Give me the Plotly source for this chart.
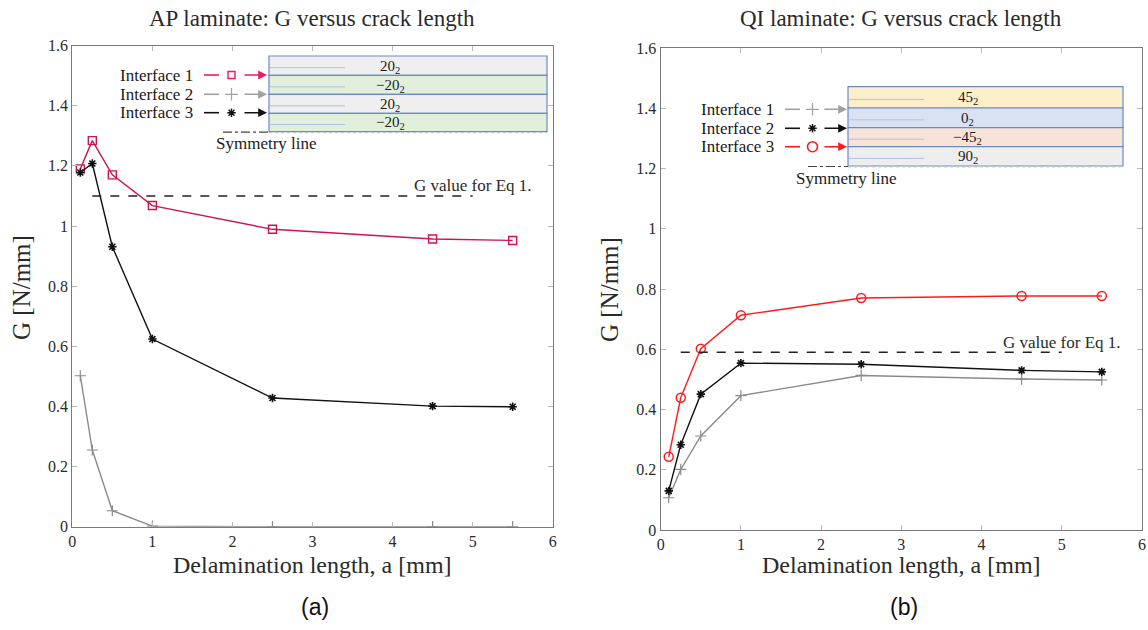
import plotly.graph_objects as go

# ---------------- data ----------------
a_mm = [0.1, 0.25, 0.5, 1.0, 2.5, 4.5, 5.5]

ap_interface1 = [1.190, 1.284, 1.170, 1.068, 0.989, 0.957, 0.952]
ap_interface2 = [0.502, 0.255, 0.053, 0.002, 0.0, 0.0, 0.0]
ap_interface3 = [1.178, 1.208, 0.931, 0.624, 0.428, 0.401, 0.399]

qi_interface1 = [0.107, 0.201, 0.312, 0.446, 0.513, 0.501, 0.498]
qi_interface2 = [0.130, 0.283, 0.451, 0.554, 0.550, 0.530, 0.525]
qi_interface3 = [0.243, 0.439, 0.602, 0.713, 0.770, 0.777, 0.777]

eq1_x = [0.25, 5.0]
ap_eq1 = 1.1
qi_eq1 = 0.59

x_ticks = [0, 1, 2, 3, 4, 5, 6]
x_ticktext = ["0", "1", "2", "3", "4", "5", "6"]
y_ticks = [0, 0.2, 0.4, 0.6, 0.8, 1.0, 1.2, 1.4, 1.6]
y_ticktext = ["0", "0.2", "0.4", "0.6", "0.8", "1", "1.2", "1.4", "1.6"]

ap_layers = ["20<sub>2</sub>", "\u221220<sub>2</sub>", "20<sub>2</sub>", "\u221220<sub>2</sub>"]
qi_layers = ["45<sub>2</sub>", "0<sub>2</sub>", "\u221245<sub>2</sub>", "90<sub>2</sub>"]
interface_labels = ["Interface 1", "Interface 2", "Interface 3"]

# ---------------- styles ----------------
W, H = 1148, 630
SERIF = "Liberation Serif, Times New Roman, serif"
CRIMSON = "#cc1450"
PINK = "#f01a66"
GRAY = "#8a8a8a"
BLACK = "#111111"
RED = "#ff1a1a"
TXT = "#2a2a2a"


def px(x):
    return x / W


def py(y):
    return 1 - y / H


fig = go.Figure()

sq = dict(symbol="square-open", size=8, line=dict(width=1.4))
pl = dict(symbol="cross-thin-open", size=8, line=dict(width=1.2))
st = dict(symbol="asterisk-open", size=7, line=dict(width=1.6))
ci = dict(symbol="circle-open", size=9, line=dict(width=1.5))

# AP laminate
fig.add_trace(go.Scatter(x=a_mm, y=ap_interface1, mode="lines+markers", xaxis="x", yaxis="y",
                         line=dict(color=CRIMSON, width=1.4), marker=dict(color=CRIMSON, **sq)))
fig.add_trace(go.Scatter(x=a_mm, y=ap_interface2, mode="lines+markers", xaxis="x", yaxis="y",
                         line=dict(color=GRAY, width=1.4), marker=dict(color=GRAY, **pl)))
fig.add_trace(go.Scatter(x=a_mm, y=ap_interface3, mode="lines+markers", xaxis="x", yaxis="y",
                         line=dict(color=BLACK, width=1.4), marker=dict(color=BLACK, **st)))
fig.add_trace(go.Scatter(x=eq1_x, y=[ap_eq1, ap_eq1], mode="lines", xaxis="x", yaxis="y",
                         line=dict(color="#222", width=1.5, dash="dash")))

# QI laminate
fig.add_trace(go.Scatter(x=a_mm, y=qi_interface3, mode="lines+markers", xaxis="x2", yaxis="y2",
                         line=dict(color=RED, width=1.4), marker=dict(color=RED, **ci)))
fig.add_trace(go.Scatter(x=a_mm, y=qi_interface1, mode="lines+markers", xaxis="x2", yaxis="y2",
                         line=dict(color=GRAY, width=1.4), marker=dict(color=GRAY, **pl)))
fig.add_trace(go.Scatter(x=a_mm, y=qi_interface2, mode="lines+markers", xaxis="x2", yaxis="y2",
                         line=dict(color=BLACK, width=1.4), marker=dict(color=BLACK, **st)))
fig.add_trace(go.Scatter(x=eq1_x, y=[qi_eq1, qi_eq1], mode="lines", xaxis="x2", yaxis="y2",
                         line=dict(color="#222", width=1.5, dash="dash")))

shapes = []
annotations = []


def inset(box_x0, box_x1, row_y, fills, layers, leg_text_x, leg_ys, leg_line, leg_mark_x,
          leg_arrow, leg_colors, leg_markers, sym_x0, sym_text_x, sym_text_y):
    # layer rows
    for i in range(4):
        shapes.append(dict(type="rect", xref="paper", yref="paper",
                           x0=px(box_x0), x1=px(box_x1), y0=py(row_y[i + 1]), y1=py(row_y[i]),
                           fillcolor=fills[i], line=dict(color="#6a8bc6", width=1.2), layer="above"))
        yc = (row_y[i] + row_y[i + 1]) / 2
        shapes.append(dict(type="line", xref="paper", yref="paper",
                           x0=px(box_x0 + 1), x1=px(box_x0 + 76), y0=py(yc + 2), y1=py(yc + 2),
                           line=dict(color="#aec1e6", width=1), layer="above"))
        annotations.append(dict(x=px((box_x0 + box_x1) / 2 - 18), y=py(yc + 1), xref="paper",
                                yref="paper", text=layers[i], showarrow=False, xanchor="center",
                                yanchor="middle",
                                font=dict(family=SERIF, size=15, color="#1a1a1a")))
    # symmetry line
    shapes.append(dict(type="line", xref="paper", yref="paper",
                       x0=px(sym_x0), x1=px(box_x0), y0=py(row_y[4] + 0.5), y1=py(row_y[4] + 0.5),
                       line=dict(color="#444", width=1.2, dash="dashdot"), layer="above"))
    shapes.append(dict(type="line", xref="paper", yref="paper",
                       x0=px(box_x0), x1=px(box_x1), y0=py(row_y[4] + 1), y1=py(row_y[4] + 1),
                       line=dict(color="#c8c8c8", width=1.2, dash="dot"), layer="above"))
    annotations.append(dict(x=px(sym_text_x), y=py(sym_text_y), xref="paper", yref="paper",
                            text="Symmetry line", showarrow=False, xanchor="left", yanchor="middle",
                            font=dict(family=SERIF, size=17, color="#1a1a1a")))
    # legend rows
    for k in range(3):
        yk = leg_ys[k]
        annotations.append(dict(x=px(leg_text_x), y=py(yk), xref="paper", yref="paper",
                                text=interface_labels[k], showarrow=False, xanchor="right",
                                yanchor="middle", font=dict(family=SERIF, size=17, color="#1a1a1a")))
        shapes.append(dict(type="line", xref="paper", yref="paper",
                           x0=px(leg_line[0]), x1=px(leg_line[1]), y0=py(yk), y1=py(yk),
                           line=dict(color=leg_colors[k], width=1.6), layer="above"))
        annotations.append(dict(x=px(leg_arrow[1]), y=py(yk), xref="paper", yref="paper",
                                text="", showarrow=True, ax=-(leg_arrow[1] - leg_arrow[0]), ay=0,
                                arrowhead=2, arrowsize=1.1, arrowwidth=1.6,
                                arrowcolor=leg_colors[k]))
        fig.add_trace(go.Scatter(x=[leg_mark_x], y=[yk], mode="markers", xaxis="x3", yaxis="y3",
                                 marker=dict(color=leg_colors[k], **leg_markers[k])))


inset(269, 547, [56, 75.3, 94.3, 113.3, 131.7],
      ["#efefef", "#e2efda", "#efefef", "#e2efda"], ap_layers,
      195, [75, 94.3, 112.7], (204, 219), 231.5, (243, 267),
      [PINK, "#a0a0a0", BLACK],
      [dict(symbol="square-open", size=7, line=dict(width=1.4)),
       dict(symbol="cross-thin-open", size=9, line=dict(width=1.2)),
       dict(symbol="asterisk-open", size=7, line=dict(width=1.4))],
      223, 214, 143.5)

inset(848, 1123, [86.7, 108, 127.7, 146.7, 166],
      ["#fdefca", "#d9e2f3", "#f8e3d8", "#eeeeee"], qi_layers,
      776, [109.3, 128.3, 146.7], (785, 800), 812.5, (823, 847),
      ["#a0a0a0", BLACK, RED],
      [dict(symbol="cross-thin-open", size=9, line=dict(width=1.2)),
       dict(symbol="asterisk-open", size=7, line=dict(width=1.4)),
       dict(symbol="circle-open", size=10, line=dict(width=1.6))],
      808, 794, 178.5)

# titles / labels
for cx, title, sub in [(312, "AP laminate: G versus crack length", "(a)"),
                       (901, "QI laminate: G versus crack length", "(b)")]:
    annotations.append(dict(x=px(cx), y=py(18), xref="paper", yref="paper", text=title,
                            showarrow=False, xanchor="center", yanchor="middle",
                            font=dict(family=SERIF, size=23, color=TXT)))
    annotations.append(dict(x=px(cx), y=py(565), xref="paper", yref="paper",
                            text="Delamination length, a [mm]", showarrow=False,
                            xanchor="center", yanchor="middle",
                            font=dict(family=SERIF, size=24, color=TXT)))
    annotations.append(dict(x=px(cx + 3), y=py(607), xref="paper", yref="paper", text=sub,
                            showarrow=False, xanchor="center", yanchor="middle",
                            font=dict(family="Liberation Sans, Arial, sans-serif", size=23,
                                      color="#111")))

for cx, cy in [(22, 288), (610, 290)]:
    annotations.append(dict(x=px(cx), y=py(cy), xref="paper", yref="paper", text="G [N/mm]",
                            showarrow=False, textangle=-90, xanchor="center", yanchor="middle",
                            font=dict(family=SERIF, size=25, color=TXT)))

# Eq 1 labels
annotations.append(dict(x=5.77, y=ap_eq1 + 0.034, xref="x", yref="y", text="G value for Eq 1.",
                        showarrow=False, xanchor="right", yanchor="middle",
                        font=dict(family=SERIF, size=17, color=TXT)))
annotations.append(dict(x=5.76, y=qi_eq1 + 0.032, xref="x2", yref="y2", text="G value for Eq 1.",
                        showarrow=False, xanchor="right", yanchor="middle",
                        font=dict(family=SERIF, size=17, color=TXT)))

axis_common = dict(showline=True, linecolor="#7a7a7a", linewidth=1.3, mirror="allticks",
                   ticks="inside", ticklen=5, tickcolor="#b8b8b8", tickwidth=1,
                   showgrid=False, zeroline=False, automargin=False,
                   tickfont=dict(family=SERIF, size=16, color=TXT))

fig.update_layout(
    width=W, height=H,
    margin=dict(l=0, r=0, t=0, b=0, autoexpand=False),
    paper_bgcolor="white", plot_bgcolor="rgba(0,0,0,0)",
    showlegend=False,
    xaxis=dict(domain=[px(72.3), px(552.7)], range=[0, 6], anchor="y",
               tickvals=x_ticks, ticktext=x_ticktext, **axis_common),
    yaxis=dict(domain=[py(526.7), py(45.6)], range=[0, 1.6], anchor="x",
               tickvals=y_ticks, ticktext=y_ticktext, **axis_common),
    xaxis2=dict(domain=[px(660.7), px(1141.9)], range=[0, 6], anchor="y2",
                tickvals=x_ticks, ticktext=x_ticktext, **axis_common),
    yaxis2=dict(domain=[py(530), py(48)], range=[0, 1.6], anchor="x2",
                tickvals=y_ticks, ticktext=y_ticktext, **axis_common),
    xaxis3=dict(domain=[0, 1], range=[0, W], anchor="y3", visible=False, fixedrange=True,
                automargin=False),
    yaxis3=dict(domain=[0, 1], range=[H, 0], anchor="x3", visible=False, fixedrange=True,
                automargin=False),
    shapes=shapes,
    annotations=annotations,
)

fig.write_html("out.html")
